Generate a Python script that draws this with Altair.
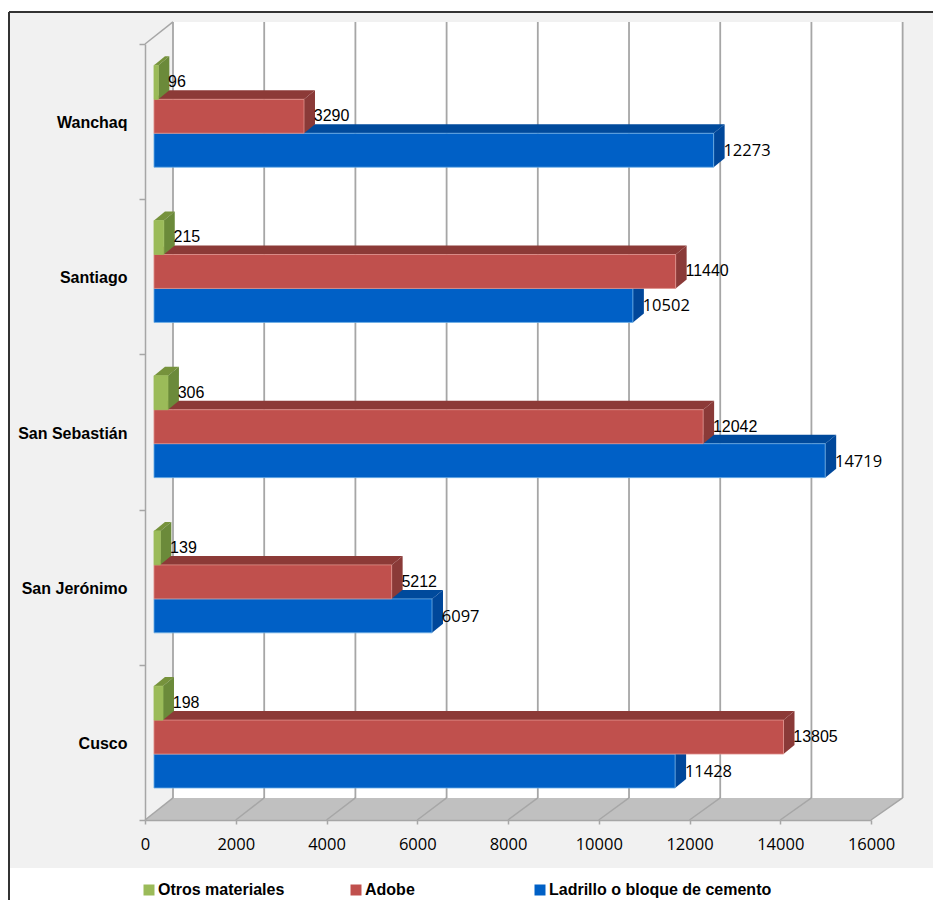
import json
import altair as alt
import pandas as pd

# Household counts by wall material and district
districts = ["Cusco", "San Jerónimo", "San Sebastián", "Santiago", "Wanchaq"]
otros = [198, 139, 306, 215, 96]
adobe = [13805, 5212, 12042, 11440, 3290]
ladrillo = [11428, 6097, 14719, 10502, 12273]

x_ticks = list(range(0, 16001, 2000))

# Oblique projection of the box, in axis units
WALL_DX, WALL_DY = 617, 0.142
STRETCH = 1.005
BAR_X0 = 198
BAR_DX, BAR_DY = 242, 0.058
BAR_H = 0.2187

BOLD_FONT = "Liberation Sans"
GRID = "#a6a6a6"

series = [
    # name, values, lower edge in band, front, top, side, edge, label font, size, label nudge
    ("Ladrillo o bloque de cemento", ladrillo, 0.206, "#0060c6", "#004a9c", "#00479a", "#6fb0e6", "Open Sans", 16.5, 1),
    ("Adobe", adobe, 0.425, "#c0504d", "#8c3a37", "#8a3a38", "#e0908c", "Liberation Sans", 16, 0),
    ("Otros materiales", otros, 0.644, "#9bbb59", "#76923c", "#6b8a3a", "#9bbb59", "Liberation Sans", 16, 0),
]
legend_x = {"Ladrillo o bloque de cemento": 387, "Adobe": 203, "Otros materiales": -4}
LEGEND_Y = 838

x_scale = alt.Scale(domain=[0, 16000], nice=False, zero=False)
y_scale = alt.Scale(domain=[0, 5], nice=False, zero=False)
X = lambda f, **k: alt.X(f, type="quantitative", scale=x_scale, title=None, **k)
Y = lambda f, **k: alt.Y(f, type="quantitative", scale=y_scale, title=None, **k)


def front_end(v):
    return BAR_X0 + v * STRETCH


def back_x(v):
    return WALL_DX + v * STRETCH


# Page furniture
one = pd.DataFrame({"a": [0]})
panel = alt.Chart(one).mark_rect(color="#f1f1f1").encode(
    x=alt.value(-135), x2=alt.value(788), y=alt.value(-31), y2=alt.value(824))
frame_top = alt.Chart(one).mark_rule(color="#333333", strokeWidth=2).encode(
    x=alt.value(-136), x2=alt.value(788), y=alt.value(-32))
frame_left = alt.Chart(one).mark_rule(color="#333333", strokeWidth=2).encode(
    x=alt.value(-136), y=alt.value(-32), y2=alt.value(856))

# Back wall, floor and gridlines
wall = alt.Chart(pd.DataFrame({"x": [back_x(0)], "x2": [back_x(16000)], "y": [WALL_DY], "y2": [5 + WALL_DY]})).mark_rect(
    color="white").encode(X("x"), x2="x2", y=Y("y"), y2="y2")
floor = alt.Chart(pd.DataFrame({"x": [0, back_x(0)], "x2": [16000, back_x(16000)], "y": [0, WALL_DY]})).mark_area(
    orient="horizontal", color="#c0c0c0").encode(X("x"), x2="x2", y=Y("y"))
grid_df = pd.DataFrame({"x": x_ticks})
grid_df["bx"] = grid_df["x"].map(back_x)
grid_df["by"] = WALL_DY
grid_df["ty"] = 5 + WALL_DY
grid_df["fy"] = 0.0
back_lines = alt.Chart(grid_df).mark_rule(color=GRID, strokeWidth=1.8).encode(X("bx"), y=Y("by"), y2="ty")
floor_lines = alt.Chart(grid_df).mark_rule(color=GRID, strokeWidth=1.5).encode(X("x"), x2="bx", y=Y("fy"), y2="by")
corner = alt.Chart(pd.DataFrame({"x": [0], "x2": [back_x(0)], "y": [5], "y2": [5 + WALL_DY]})).mark_rule(
    color=GRID, strokeWidth=1.5).encode(X("x"), x2="x2", y=Y("y"), y2="y2")

layers = [panel, frame_top, frame_left, wall, floor, back_lines, floor_lines, corner]
labels = []

# Each series is built from a top face, a side face and a front face, back to front
for name, values, low, col_front, col_top, col_side, col_edge, font, size, nudge in series:
    top_rows, side_rows, front_rows, label_rows = [], [], [], []
    for i, v in enumerate(values):
        end = front_end(v)
        b, t = i + low, i + low + BAR_H
        top_rows += [
            {"k": i, "x": BAR_X0, "x2": end, "y": t},
            {"k": i, "x": BAR_X0 + BAR_DX, "x2": end + BAR_DX, "y": t + BAR_DY},
        ]
        side_rows += [
            {"k": i, "x": end, "y": b, "y2": t},
            {"k": i, "x": end + BAR_DX, "y": b + BAR_DY, "y2": t + BAR_DY},
        ]
        front_rows.append({"serie": name, "x": BAR_X0, "x2": end, "y": b, "y2": t})
        label_rows.append({"x": end + 215, "y": (b + t) / 2, "v": v})

    layers.append(alt.Chart(pd.DataFrame(top_rows)).mark_area(orient="horizontal", color=col_top).encode(
        X("x"), x2="x2", y=Y("y"), detail="k:N"))
    layers.append(alt.Chart(pd.DataFrame(side_rows)).mark_area(orient="vertical", color=col_side).encode(
        X("x"), y=Y("y"), y2="y2", detail="k:N"))
    layers.append(alt.Chart(pd.DataFrame(front_rows)).mark_rect(stroke=col_edge, strokeWidth=0.8).encode(
        X("x"), x2="x2", y=Y("y"), y2="y2",
        color=alt.Color("serie:N", scale=alt.Scale(domain=[name], range=[col_front]), legend=alt.Legend(
            title=None, orient="none", legendX=legend_x[name], legendY=LEGEND_Y,
            symbolType="square", symbolSize=121, symbolStrokeWidth=0, labelFont=BOLD_FONT,
            labelFontWeight="bold", labelFontSize=16, labelColor="black", labelOffset=1,
            labelLimit=400, padding=0))))
    labels.append(alt.Chart(pd.DataFrame(label_rows)).mark_text(
        align="left", baseline="middle", font=font, fontSize=size, color="black", dy=nudge).encode(
        X("x"), y=Y("y"), text="v:Q"))

# Axes: district names sit in the middle of each band, ticks on the band edges
names = json.dumps(districts, ensure_ascii=False)
y_axis = alt.Axis(
    values=[n / 2 for n in range(11)],
    labelExpr=f"datum.value % 1 == 0 ? '' : {names}[floor(datum.value)]",
    tickOpacity={"condition": {"test": "datum.value % 1 == 0", "value": 1}, "value": 0},
    grid=False, domainColor=GRID, domainWidth=1.5, tickColor=GRID, tickWidth=1.5, tickSize=6,
    labelFont=BOLD_FONT, labelFontWeight="bold", labelFontSize=16, labelColor="black",
    labelPadding=12, labelOffset=1, zindex=1,
)
x_axis = alt.Axis(
    values=x_ticks, format="d", grid=False, domainColor=GRID, domainWidth=1.5, tickColor=GRID, tickWidth=1.5,
    tickSize=4, labelFont="Open Sans", labelFontSize=16.5, labelColor="black", labelPadding=12,
    labelFlush=False, labelOverlap=False, zindex=1,
)
axes = alt.Chart(one).mark_point(opacity=0).encode(
    x=alt.X("a:Q", scale=x_scale, axis=x_axis, title=None),
    y=alt.Y("a:Q", scale=y_scale, axis=y_axis, title=None),
)

chart = alt.layer(*layers, *labels, axes).resolve_scale(color="independent").properties(
    width=726, height=776,
    padding={"left": 145, "top": 44, "right": 62, "bottom": 80},
    autosize=alt.AutoSizeParams(type="none"),
    background="white",
).configure_view(stroke=None)

chart.save("out.html", embed_options={"renderer": "svg", "actions": False})
